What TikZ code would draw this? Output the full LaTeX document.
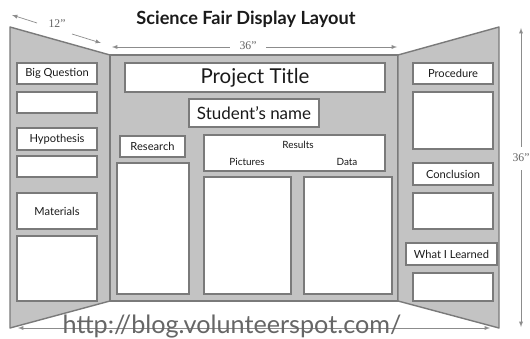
\documentclass[tikz,border=0pt]{standalone}
\usepackage{fontspec}
\setmainfont{Lato}
\newfontfamily\dimfont{Liberation Serif}
\usetikzlibrary{positioning}
\usetikzlibrary{arrows}
\usetikzlibrary{shapes}
\definecolor{panelgray}{HTML}{C3C3C3}
\definecolor{edgegray}{HTML}{7A7A7A}
\definecolor{dimgray}{HTML}{8C8C8C}
\definecolor{textgray}{HTML}{1A1A1A}
\definecolor{urlgray}{HTML}{666666}
\tikzset{
        boxnode/.style={align=center,inner sep=0pt},
        % Board panels
        panel/.style={fill=panelgray, draw=edgegray, line width=1.2pt, line join=round},
        % Boxes with a heading
        node_label/.style={boxnode, rectangle, draw=edgegray, fill=white, line width=1.1pt, text=textgray, font=\fontsize{9.5}{11}\selectfont, minimum width=2.4cm, minimum height=0.63cm},
        % Empty boxes
        node_blank/.style={boxnode, rectangle, draw=edgegray, fill=white, line width=1.1pt, minimum width=2.4cm},
        % Text inside the results box
        node_text/.style={boxnode, text=textgray, font=\fontsize{8.5}{10}\selectfont},
        % Measurements
        node_dim/.style={boxnode, text=dimgray!70!black, font=\dimfont\fontsize{10}{11}\selectfont},
        dimline/.style={draw=dimgray, line width=0.6pt}
}
\begin{document}
\begin{tikzpicture}[
            x=0.03cm, y=-0.03cm,
            >=latex
        ]
            \useasboundingbox (0,0) rectangle (530,339);
            % panels
            \draw[panel] (10,27) -- (110,55) -- (110,301) -- (10,328) -- cycle;
            \draw[panel] (110,55) -- (398,55) -- (398,301) -- (110,301) -- cycle;
            \draw[panel] (398,55) -- (499,27) -- (499,328) -- (398,301) -- cycle;

            \node[boxnode, text=textgray, font=\bfseries\fontsize{15.5}{17}\selectfont] (heading) at (246,19) {Science Fair Display Layout};

            % measurements
            \coordinate (wl) at (12,15);
            \coordinate (wl-a) at (37,23);
            \coordinate (wl-b) at (72,34);
            \coordinate (wl-r) at (101,43);
            \node[node_dim] (wlabel) at (57,24) {12”};
            \draw[dimline, <-] (wl) -- (wl-a);
            \draw[dimline, ->] (wl-b) -- (wl-r);

            \coordinate (wc) at (112,47);
            \coordinate (wc-r) at (397,47);
            \node[node_dim, inner xsep=20\pgflinewidth] (wclabel) at (248,46) {36”};
            \draw[dimline, <-] (wc) -- (wc -| wclabel.west);
            \draw[dimline, ->] (wc-r -| wclabel.east) -- (wc-r);

            \coordinate (hv) at (521,28);
            \coordinate (hv-b) at (521,327);
            \node[node_dim] (hlabel) at (521,158) {36”};
            \draw[dimline, <-] (hv) -- (521,147);
            \draw[dimline, ->] (521,170) -- (hv-b);

            \coordinate (wb) at (18,328);
            \coordinate (wb-r) at (490,328);
            \draw[dimline, <->] (wb) -- (wb-r);

            % left panel
            \node[node_label] (bigq) at (57,73.5) {Big Question};
            \node[node_blank, minimum height=0.63cm] (lblank1) at (57,102.5) {};
            \node[node_label, minimum height=0.66cm] (hyp) at (57,139) {Hypothesis};
            \node[node_blank, minimum height=0.63cm] (lblank2) at (57,166.5) {};
            \node[node_label, minimum height=1.08cm] (mat) at (57,211) {Materials};
            \node[node_blank, minimum height=1.95cm] (lblank3) at (57,268.5) {};

            % centre panel
            \node[node_label, minimum width=7.8cm, minimum height=0.87cm, font=\fontsize{17.5}{19}\selectfont] (title) at (255,77.5) {Project Title};
            \node[node_label, minimum width=3.9cm, minimum height=0.84cm, font=\fontsize{14.5}{16}\selectfont] (student) at (254,113) {Student's name};
            \node[node_label, minimum width=1.95cm] (research) at (152.5,146.5) {Research};
            \node[node_blank, minimum width=2.16cm, minimum height=3.93cm] (cblank1) at (153,228.5) {};
            \node[node_blank, minimum width=5.43cm, minimum height=1.08cm] (results) at (294.5,153) {};
            \node[node_text] (results-t) at (298,145) {Results};
            \node[node_text] (pictures-t) at (247,162) {Pictures};
            \node[node_text] (data-t) at (347,162) {Data};
            \node[node_blank, minimum width=2.61cm, minimum height=3.51cm] (picbox) at (247.5,235.5) {};
            \node[node_blank, minimum width=2.64cm, minimum height=3.51cm] (databox) at (348,235.5) {};

            % right panel
            \node[node_label] (proc) at (453,73.5) {Procedure};
            \node[node_blank, minimum height=1.71cm] (rblank1) at (453,120.5) {};
            \node[node_label, minimum height=0.66cm] (concl) at (453,174) {Conclusion};
            \node[node_blank, minimum height=1.08cm] (rblank2) at (453,211) {};
            \node[node_label, minimum width=2.73cm, minimum height=0.66cm] (learned) at (451.5,254) {What I Learned};
            \node[node_blank, minimum height=0.84cm] (rblank3) at (453,287) {};

            \node[boxnode, text=urlgray, font=\fontsize{21.5}{23}\selectfont, anchor=base] (url) at (232,333) {http://blog.volunteerspot.com/};
        \end{tikzpicture}
\end{document}
